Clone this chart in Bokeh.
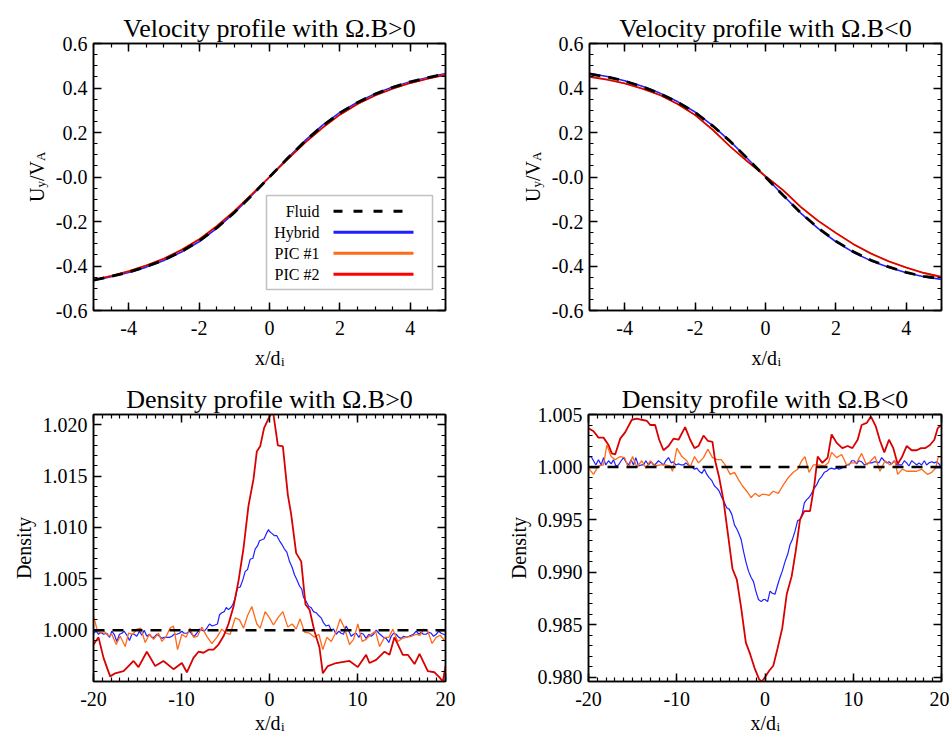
import math
import numpy as np
from bokeh.plotting import figure
from bokeh.layouts import column, row
from bokeh.models import (FixedTicker, LinearAxis, PrintfTickFormatter, CustomJSTickFormatter,
                          Label, BoxAnnotation, Arrow, Range1d)
from bokeh.embed import file_html
from bokeh.resources import INLINE

SERIF = "Liberation Serif"

# ---------------- data: velocity profiles ----------------
vel_x = [-5.0, -4.5, -4.0, -3.5, -3.0, -2.5, -2.0, -1.5, -1.0, -0.5, 0.0,
         0.5, 1.0, 1.5, 2.0, 2.5, 3.0, 3.5, 4.0, 4.5, 5.0]
# Omega.B > 0
vpos_fluid = [-0.463, -0.447, -0.428, -0.403, -0.373, -0.335, -0.288, -0.229, -0.160, -0.082, 0.0,
              0.082, 0.160, 0.229, 0.288, 0.335, 0.373, 0.403, 0.428, 0.447, 0.463]
vpos_hybrid = [-0.465, -0.448, -0.429, -0.405, -0.375, -0.337, -0.291, -0.231, -0.161, -0.082, 0.0,
               0.083, 0.162, 0.232, 0.290, 0.336, 0.374, 0.404, 0.428, 0.447, 0.465]
vpos_pic1 = [-0.462, -0.444, -0.423, -0.397, -0.366, -0.327, -0.279, -0.220, -0.152, -0.077, 0.0,
             0.077, 0.152, 0.220, 0.280, 0.328, 0.367, 0.398, 0.423, 0.443, 0.460]
vpos_pic2 = [-0.463, -0.445, -0.424, -0.398, -0.367, -0.328, -0.281, -0.222, -0.154, -0.078, 0.0,
             0.078, 0.153, 0.221, 0.280, 0.328, 0.366, 0.397, 0.422, 0.442, 0.459]
# Omega.B < 0
vneg_fluid = [0.463, 0.450, 0.431, 0.406, 0.375, 0.337, 0.290, 0.230, 0.160, 0.081, 0.0,
              -0.082, -0.161, -0.230, -0.288, -0.336, -0.374, -0.404, -0.429, -0.447, -0.457]
vneg_hybrid = [0.465, 0.452, 0.433, 0.408, 0.377, 0.339, 0.292, 0.231, 0.160, 0.081, 0.0,
               -0.082, -0.162, -0.232, -0.291, -0.339, -0.377, -0.406, -0.430, -0.448, -0.460]
vneg_pic1 = [0.452, 0.439, 0.421, 0.398, 0.369, 0.329, 0.279, 0.213, 0.137, 0.068, 0.003,
             -0.060, -0.135, -0.198, -0.252, -0.303, -0.345, -0.380, -0.408, -0.432, -0.450]
vneg_pic2 = [0.450, 0.437, 0.420, 0.397, 0.368, 0.328, 0.278, 0.212, 0.136, 0.068, 0.004,
             -0.059, -0.134, -0.197, -0.251, -0.302, -0.344, -0.379, -0.407, -0.431, -0.449]

# ---------------- data: density profiles ----------------
fluid_dx = [-20.0, 20.0]
fluid_dy = [1.0, 1.0]

# Omega.B > 0
dpos_hyb_x = [-20.00, -19.70, -19.43, -19.17, -18.86, -18.48, -18.18, -17.92, -17.65, -17.35,
              -17.05, -16.78, -16.52, -16.21, -15.91, -15.64, -15.38, -15.08, -14.77, -14.51,
              -14.24, -13.94, -13.64, -13.37, -13.11, -12.80, -12.50, -12.23, -11.97, -11.67,
              -11.36, -11.10, -10.83, -10.53, -10.23, -9.96, -9.70, -9.39, -9.09, -8.83,
              -8.56, -8.26, -7.95, -7.69, -7.42, -7.12, -6.82, -6.52, -6.21, -5.91,
              -5.68, -5.42, -5.15, -4.92, -4.66, -4.39, -4.17, -3.90, -3.64, -3.33,
              -3.03, -2.77, -2.50, -2.20, -1.89, -1.63, -1.36, -1.14, -0.87, -0.61,
              -0.30, -0.11,
              0.00, 0.30, 0.57, 0.83, 1.14, 1.44, 1.70, 1.97, 2.27, 2.58,
              2.84, 3.11, 3.41, 3.67, 3.86, 4.17, 4.47, 4.73, 5.00, 5.30,
              5.61, 5.87, 6.14, 6.44, 6.74, 7.01, 7.27, 7.58, 7.88, 8.14,
              8.41, 8.71, 9.02, 9.28, 9.55, 9.85, 10.15, 10.42, 10.68, 10.98,
              11.29, 11.55, 11.82, 12.12, 12.42, 12.69, 12.95, 13.26, 13.56, 13.83,
              14.09, 14.39, 14.70, 14.96, 15.23, 15.53, 15.83, 16.10, 16.36, 16.67,
              16.97, 17.23, 17.50, 17.80, 18.11, 18.37, 18.64, 18.94, 19.24, 19.51,
              19.77, 20.00]
dpos_hyb_y = [0.9997, 0.9999, 0.9996, 0.9998, 0.9996, 0.9997, 0.9993, 0.9999, 0.9996, 0.9989,
              0.9996, 0.9997, 0.9999, 0.9995, 0.9990, 0.9996, 0.9996, 0.9994, 0.9999, 0.9995,
              1.0000, 0.9994, 0.9996, 0.9993, 0.9993, 0.9996, 0.9994, 0.9992, 0.9993, 0.9993,
              0.9993, 0.9994, 0.9996, 0.9996, 0.9997, 0.9999, 0.9997, 0.9997, 0.9999, 0.9996,
              0.9994, 0.9997, 1.0001, 1.0000, 0.9999, 1.0002, 1.0006, 1.0004, 1.0005, 1.0006,
              1.0015, 1.0017, 1.0018, 1.0022, 1.0020, 1.0022, 1.0025, 1.0031, 1.0041, 1.0042,
              1.0049, 1.0057, 1.0059, 1.0069, 1.0070, 1.0079, 1.0082, 1.0087, 1.0088, 1.0089,
              1.0095, 1.0098,
              1.0096, 1.0094, 1.0092, 1.0092, 1.0087, 1.0083, 1.0079, 1.0076, 1.0067, 1.0061,
              1.0054, 1.0049, 1.0043, 1.0040, 1.0032, 1.0028, 1.0023, 1.0022, 1.0018, 1.0017,
              1.0014, 1.0012, 1.0007, 1.0004, 1.0005, 1.0000, 1.0001, 0.9996, 0.9999, 0.9997,
              0.9996, 1.0004, 0.9999, 0.9994, 0.9996, 0.9997, 0.9993, 0.9997, 0.9996, 0.9992,
              0.9996, 0.9994, 0.9996, 1.0000, 0.9997, 0.9995, 0.9993, 0.9992, 0.9988, 0.9994,
              0.9997, 0.9996, 0.9993, 0.9992, 0.9994, 0.9993, 0.9994, 0.9995, 0.9996, 0.9999,
              0.9996, 0.9998, 0.9996, 0.9996, 0.9998, 0.9997, 0.9994, 0.9996, 0.9999, 0.9997,
              0.9996, 0.9995]
dpos_pic1_x = [-20.00, -19.55, -19.17, -18.79, -18.30, -17.92, -17.42, -16.97, -16.40, -16.02,
               -15.53, -15.08, -14.62, -14.13, -13.64, -13.18, -12.61, -12.23, -11.74, -11.29,
               -10.91, -10.45, -9.96, -9.47, -9.02, -8.64, -8.18, -7.69, -7.12, -6.55,
               -5.98, -5.42, -4.92, -4.47, -3.90, -3.41, -2.95, -2.50, -2.01, -1.44,
               -1.06, -0.49,
               0.00, 0.45, 0.95, 1.52, 2.08, 2.58, 3.03, 3.48, 3.98, 4.55,
               5.11, 5.61, 6.06, 6.52, 7.01, 7.50, 8.03, 8.52, 9.09, 9.55,
               10.04, 10.53, 10.98, 11.55, 12.05, 12.50, 13.07, 13.56, 14.02, 14.58,
               15.08, 15.53, 16.10, 16.67, 17.12, 17.50, 17.99, 18.48, 18.94, 19.39,
               20.00]
dpos_pic1_y = [1.0014, 0.9999, 0.9997, 0.9999, 0.9994, 0.9996, 0.9986, 0.9994, 0.9984, 0.9997,
               0.9996, 1.0001, 1.0002, 0.9988, 0.9996, 0.9991, 0.9997, 0.9989, 0.9994, 1.0002,
               1.0004, 0.9981, 0.9996, 0.9993, 1.0002, 0.9993, 0.9994, 1.0003, 0.9994, 0.9987,
               0.9993, 1.0001, 0.9997, 0.9996, 1.0012, 1.0010, 1.0002, 1.0014, 1.0023, 1.0006,
               1.0002, 1.0018,
               1.0012, 1.0005, 1.0012, 1.0018, 1.0003, 1.0006, 1.0001, 1.0011, 0.9998, 0.9997,
               0.9993, 0.9996, 0.9981, 0.9993, 0.9989, 0.9997, 1.0011, 1.0002, 0.9986, 0.9991,
               1.0006, 0.9989, 0.9991, 0.9996, 0.9999, 0.9984, 0.9993, 0.9993, 1.0001, 0.9989,
               0.9992, 0.9993, 0.9994, 0.9996, 0.9995, 1.0001, 0.9999, 0.9987, 0.9993, 0.9995,
               0.9989]
dpos_pic2_x = [-20.00, -19.43, -18.86, -18.11, -17.54, -16.59, -16.02, -15.45, -14.89, -13.94,
               -12.99, -12.05, -10.91, -9.96, -9.39, -8.64, -8.07, -7.50, -6.93, -6.36,
               -5.80, -5.23, -4.66, -4.09, -3.52, -2.95, -2.39, -1.82, -1.44, -1.06,
               -0.61, 0.00, 0.40, 0.95, 1.52, 2.08, 2.46, 3.03, 3.60, 4.09,
               4.55, 5.11, 5.68, 6.06, 6.63, 7.58, 9.09, 10.04, 10.98, 11.36,
               12.12, 13.07, 13.64, 14.20, 15.15, 15.72, 16.48, 17.05, 17.99, 18.75,
               19.32, 19.70, 20.00]
dpos_pic2_y = [0.9986, 0.9993, 0.9973, 0.9955, 0.9958, 0.9960, 0.9965, 0.9970, 0.9964, 0.9979,
               0.9965, 0.9970, 0.9962, 0.9968, 0.9959, 0.9973, 0.9979, 0.9978, 0.9981, 0.9981,
               0.9986, 0.9994, 1.0006, 1.0023, 1.0048, 1.0080, 1.0121, 1.0147, 1.0174, 1.0179,
               1.0197, 1.0208, 1.0213, 1.0180, 1.0179, 1.0132, 1.0113, 1.0075, 1.0067, 1.0025,
               1.0020, 0.9999, 0.9983, 0.9958, 0.9965, 0.9968, 0.9970, 0.9964, 0.9976, 0.9968,
               0.9971, 0.9979, 0.9976, 0.9993, 0.9976, 0.9976, 0.9967, 0.9977, 0.9960, 0.9959,
               0.9954, 0.9950, 0.9965]

# Omega.B < 0
dneg_hyb_x = [-20.00, -19.70, -19.43, -19.17, -18.87, -18.56, -18.30, -18.04, -17.73, -17.43,
              -17.17, -16.90, -16.60, -16.30, -16.03, -15.77, -15.47, -15.17, -14.90, -14.64,
              -14.33, -14.03, -13.77, -13.50, -13.20, -12.90, -12.63, -12.37, -12.07, -11.77,
              -11.50, -11.24, -10.93, -10.63, -10.37, -10.10, -9.80, -9.50, -9.23, -8.97,
              -8.67, -8.29, -7.99, -7.72, -7.46, -7.16, -6.86, -6.59, -6.33, -6.02,
              -5.72, -5.46, -5.19, -4.89, -4.59, -4.32, -4.06, -3.76, -3.46, -3.19,
              -2.93, -2.70, -2.44, -2.17, -1.87, -1.57, -1.30, -1.04, -0.74, -0.43,
              -0.17,
              0.00, 0.30, 0.57, 0.83, 1.13, 1.44, 1.70, 1.96, 2.27, 2.57,
              2.83, 3.10, 3.40, 3.70, 3.97, 4.23, 4.46, 4.72, 4.99, 5.29,
              5.59, 5.85, 6.12, 6.42, 6.72, 6.99, 7.25, 7.55, 7.86, 8.12,
              8.39, 8.69, 8.99, 9.25, 9.52, 9.82, 10.12, 10.39, 10.65, 10.95,
              11.26, 11.52, 11.78, 12.09, 12.39, 12.65, 12.92, 13.22, 13.52, 13.79,
              14.05, 14.35, 14.66, 14.92, 15.18, 15.49, 15.79, 16.05, 16.32, 16.62,
              16.92, 17.19, 17.45, 17.75, 18.05, 18.32, 18.58, 18.89, 19.19, 19.45,
              19.72, 19.94]
dneg_hyb_y = [1.0009, 1.0010, 1.0006, 1.0002, 1.0007, 1.0002, 1.0009, 1.0002, 1.0006, 1.0003,
              1.0007, 1.0001, 1.0002, 1.0006, 1.0009, 1.0005, 1.0002, 1.0007, 1.0002, 1.0009,
              1.0001, 1.0002, 1.0002, 1.0006, 1.0002, 1.0005, 1.0002, 1.0003, 1.0006, 1.0004,
              1.0002, 1.0006, 1.0009, 1.0004, 1.0005, 1.0002, 1.0003, 1.0002, 1.0002, 1.0004,
              1.0002, 1.0000, 0.9998, 0.9999, 0.9996, 0.9994, 0.9998, 0.9993, 0.9990, 0.9987,
              0.9982, 0.9980, 0.9977, 0.9971, 0.9966, 0.9961, 0.9960, 0.9955, 0.9945, 0.9941,
              0.9936, 0.9931, 0.9920, 0.9910, 0.9901, 0.9895, 0.9891, 0.9882, 0.9874, 0.9872,
              0.9874,
              0.9874, 0.9872, 0.9882, 0.9880, 0.9879, 0.9888, 0.9895, 0.9901, 0.9910, 0.9917,
              0.9926, 0.9931, 0.9939, 0.9949, 0.9950, 0.9956, 0.9966, 0.9969, 0.9971, 0.9975,
              0.9980, 0.9983, 0.9988, 0.9991, 0.9995, 0.9996, 0.9998, 0.9999, 0.9998, 0.9999,
              0.9998, 0.9999, 1.0000, 1.0002, 1.0002, 1.0006, 1.0006, 1.0003, 1.0006, 1.0005,
              1.0002, 1.0003, 1.0004, 1.0004, 1.0005, 1.0005, 1.0004, 1.0009, 1.0006, 1.0004,
              1.0005, 1.0003, 1.0006, 1.0002, 1.0002, 1.0002, 1.0006, 1.0004, 1.0001, 1.0006,
              1.0004, 1.0002, 1.0004, 1.0002, 1.0006, 1.0002, 1.0004, 1.0005, 1.0004, 1.0005,
              1.0003, 1.0000]
dneg_pic1_x = [-20.00, -19.43, -18.87, -18.30, -17.92, -17.43, -16.98, -16.41, -15.92, -15.47,
               -15.01, -14.52, -13.96, -13.50, -13.01, -12.45, -11.88, -11.31, -10.75, -10.48,
               -9.99, -9.42, -8.86, -8.48, -7.99, -7.54, -6.97, -6.48, -5.95, -5.46,
               -4.97, -4.51, -3.95, -3.46, -3.00, -2.55, -2.06, -1.57, -1.11, -0.66,
               -0.36,
               0.00, 0.45, 0.94, 1.51, 2.08, 2.64, 3.21, 3.70, 4.15, 4.53,
               4.99, 5.48, 6.04, 6.72, 7.18, 7.55, 8.12, 8.69, 9.25, 9.82,
               10.39, 10.95, 11.52, 12.01, 12.46, 13.03, 13.60, 14.16, 14.73, 15.03,
               15.56, 16.05, 16.62, 17.19, 17.75, 18.43, 18.89, 19.34, 19.64, 20.00]
dneg_pic1_y = [0.9999, 0.9993, 1.0001, 1.0002, 1.0021, 1.0010, 1.0007, 1.0010, 1.0009, 0.9999,
               1.0010, 1.0000, 1.0006, 0.9999, 1.0006, 1.0001, 1.0002, 1.0002, 1.0001, 0.9996,
               1.0018, 1.0010, 1.0006, 1.0000, 1.0010, 1.0004, 1.0009, 1.0017, 1.0009, 1.0007,
               1.0007, 1.0002, 0.9993, 0.9995, 0.9988, 0.9982, 0.9977, 0.9971, 0.9975, 0.9972,
               0.9974,
               0.9974, 0.9973, 0.9977, 0.9975, 0.9983, 0.9990, 0.9995, 0.9998, 1.0006, 1.0010,
               0.9995, 1.0002, 1.0002, 1.0001, 1.0004, 1.0014, 1.0009, 1.0012, 1.0002, 1.0004,
               1.0004, 1.0013, 1.0002, 1.0006, 1.0010, 0.9996, 1.0006, 1.0002, 1.0006, 0.9993,
               0.9998, 0.9996, 0.9996, 0.9996, 0.9998, 0.9993, 0.9995, 0.9999, 1.0010, 1.0009]
dneg_pic2_x = [-20.00, -19.43, -18.87, -18.30, -17.73, -17.36, -16.98, -16.41, -15.85, -15.09,
               -14.52, -13.96, -13.39, -13.01, -12.45, -11.99, -11.50, -10.93, -10.37, -9.80,
               -9.05, -8.48, -7.99, -7.54, -6.97, -6.48, -5.95, -5.65, -5.19, -4.70,
               -4.21, -3.68, -3.19, -2.70, -2.17, -1.68, -1.19, -0.66, -0.36,
               0.00, 0.45, 0.94, 1.44, 1.96, 2.46, 3.02, 3.48, 3.97, 4.46,
               5.10, 5.59, 5.97, 6.50, 7.10, 7.55, 8.12, 8.76, 9.37, 9.90,
               10.50, 10.95, 11.52, 12.01, 12.54, 13.03, 13.52, 14.05, 14.54, 15.03,
               15.49, 16.05, 16.62, 17.19, 17.68, 18.13, 18.70, 19.19, 19.57, 20.00]
dneg_pic2_y = [1.0037, 1.0034, 1.0028, 1.0028, 1.0021, 1.0013, 1.0012, 1.0027, 1.0033, 1.0045,
               1.0046, 1.0045, 1.0044, 1.0040, 1.0040, 1.0026, 1.0016, 1.0020, 1.0027, 1.0026,
               1.0038, 1.0026, 1.0018, 1.0020, 1.0030, 1.0025, 1.0024, 1.0006, 0.9990, 0.9968,
               0.9937, 0.9903, 0.9893, 0.9866, 0.9833, 0.9822, 0.9809, 0.9798, 0.9796,
               0.9800, 0.9806, 0.9811, 0.9828, 0.9847, 0.9879, 0.9896, 0.9920, 0.9950, 0.9958,
               0.9958, 0.9983, 1.0010, 1.0004, 1.0009, 1.0031, 1.0023, 1.0018, 1.0020, 1.0018,
               1.0026, 1.0040, 1.0042, 1.0048, 1.0039, 1.0025, 1.0014, 1.0026, 1.0018, 1.0003,
               1.0009, 1.0020, 1.0016, 1.0016, 1.0018, 1.0018, 1.0021, 1.0026, 1.0037, 1.0040]

# ---------------- ticks / labels ----------------
vel_xticks = [-4, -2, 0, 2, 4]
vel_yticks = [-0.6, -0.4, -0.2, 0.0, 0.2, 0.4, 0.6]
den_xticks = [-20, -10, 0, 10, 20]
dpos_yticks = [1.000, 1.005, 1.010, 1.015, 1.020]
dneg_yticks = [0.980, 0.985, 0.990, 0.995, 1.000, 1.005]

series_names = ["Fluid", "Hybrid", "PIC #1", "PIC #2"]
titles = ["Velocity profile with \u03a9.B>0", "Velocity profile with \u03a9.B<0",
          "Density profile with \u03a9.B>0", "Density profile with \u03a9.B<0"]

# ---------------- styles ----------------
FLUID_C = "black"
HYB_C = "#1f1fff"
PIC1_C = "#ff6a1a"
PIC2_C = "#d80000"
DASH = "11 8"


def minor(a, b, step):
    return [round(v, 5) for v in np.arange(a, b + step / 2, step)]


def style_axis(ax, ticker, formatter, standoff):
    ax.ticker = ticker
    ax.formatter = formatter
    ax.major_tick_in = 8
    ax.major_tick_out = 0
    ax.minor_tick_in = 4
    ax.minor_tick_out = 0
    ax.major_tick_line_width = 1.5
    ax.minor_tick_line_width = 1.2
    ax.major_tick_line_color = "black"
    ax.minor_tick_line_color = "black"
    ax.axis_line_color = "black"
    ax.axis_line_width = 1.5
    ax.major_label_text_font = SERIF
    ax.major_label_text_font_size = "20px"
    ax.major_label_text_color = "black"
    ax.major_label_standoff = standoff


def make_panel(title, width, height, xr, yr, borders, xticker, yticker, yfmt):
    l, r, t, b = borders
    p = figure(width=width, height=height, x_range=Range1d(*xr), y_range=Range1d(*yr),
               output_backend="svg", toolbar_location=None,
               min_border_left=l, min_border_right=r, min_border_top=t, min_border_bottom=b,
               background_fill_color="white", border_fill_color="white")
    p.title.text = title
    p.title.text_font = SERIF
    p.title.text_font_size = "26px"
    p.title.text_font_style = "normal"
    p.title.text_color = "black"
    p.title.align = "center"
    p.title.standoff = 2
    p.xgrid.visible = False
    p.ygrid.visible = False
    p.outline_line_color = "black"
    p.outline_line_width = 1.5
    style_axis(p.xaxis[0], xticker, PrintfTickFormatter(format="%d"), 10)
    style_axis(p.yaxis[0], yticker, yfmt, 6)
    blank = CustomJSTickFormatter(code="return '';")
    top = LinearAxis()
    style_axis(top, xticker, blank, 0)
    p.add_layout(top, "above")
    right = LinearAxis()
    style_axis(right, yticker, blank, 0)
    p.add_layout(right, "right")
    p._corner = (xr[0], yr[0])
    return p, width - l - r, height - t - b


def lab(p, dx, dy, text, side, size="20px", align="left", angle=0.0, baseline="alphabetic"):
    """Text placed by pixel offset from the frame's lower-left corner.
    Side panels are used only so that the text is not clipped by the frame."""
    cx, cy = p._corner
    p.add_layout(Label(x=cx, y=cy, x_units="data", y_units="data", x_offset=dx, y_offset=dy,
                       text=text, text_font=SERIF, text_font_size=size, text_color="black",
                       text_align=align, text_baseline=baseline, angle=angle), side)


def xlabel(p, fw, dy, side_main, side_sub):
    c = fw / 2
    lab(p, c + 11, dy, "x/d", side_main, align="right")
    lab(p, c + 11.5, dy - 3.5, "i", side_sub, size="13px")


def uy_label(p, fh, sides):
    y0 = fh / 2 - 25
    a = math.pi / 2
    lab(p, -57, y0, "U", sides[0], angle=a)
    lab(p, -53, y0 + 14.5, "y", sides[1], size="13px", angle=a)
    lab(p, -57, y0 + 21, "/V", sides[2], angle=a)
    lab(p, -53, y0 + 41, "A", sides[3], size="13px", angle=a)


def density_label(p, fh):
    lab(p, -70, fh / 2, "Density", "left", align="center", angle=math.pi / 2)


vel_xt = FixedTicker(ticks=vel_xticks, minor_ticks=minor(-5, 5, 0.5))
vel_yt = FixedTicker(ticks=vel_yticks, minor_ticks=minor(-0.6, 0.6, 0.05))
den_xt = FixedTicker(ticks=den_xticks, minor_ticks=minor(-20, 20, 1))
dpos_yt = FixedTicker(ticks=dpos_yticks, minor_ticks=minor(0.995, 1.021, 0.001))
dneg_yt = FixedTicker(ticks=dneg_yticks, minor_ticks=minor(0.979, 1.005, 0.001))
vel_fmt = CustomJSTickFormatter(code="const s = tick.toFixed(1); return s == '0.0' ? '-0.0' : s;")

# ---- panel 1: velocity, Omega.B > 0
p1, fw1, fh1 = make_panel(titles[0], 474, 371, (-5, 5), (-0.6, 0.6), (93, 29, 43, 61),
                          vel_xt, vel_yt, vel_fmt)
p1.line(vel_x, vpos_hybrid, line_color=HYB_C, line_width=1.6)
p1.line(vel_x, vpos_pic1, line_color=PIC1_C, line_width=1.6)
p1.line(vel_x, vpos_pic2, line_color=PIC2_C, line_width=1.6)
p1.line(vel_x, vpos_fluid, line_color=FLUID_C, line_width=2.8, line_dash=DASH)
xlabel(p1, fw1, -47, "right", "left")
uy_label(p1, fh1, ["left", "below", "left", "below"])

# legend (labels left, samples right, as in the original)
p1.add_layout(BoxAnnotation(left=173, right=339, bottom=21, top=115,
                            left_units="screen", right_units="screen",
                            top_units="screen", bottom_units="screen",
                            fill_color="white", fill_alpha=1.0,
                            line_color="#333333", line_width=1.5))
leg_styles = [(FLUID_C, "9 11"), (HYB_C, "solid"), (PIC1_C, "solid"), ("#ff0000", "solid")]
for i, (name, (col, dash)) in enumerate(zip(series_names, leg_styles)):
    yy = 99.3 - 21 * i
    p1.add_layout(Label(x=226, y=yy, x_units="screen", y_units="screen", text=name,
                        text_font=SERIF, text_font_size="16px", text_color="black",
                        text_align="right", text_baseline="middle"))
    p1.add_layout(Arrow(end=None, x_start=240, y_start=yy, x_end=320, y_end=yy,
                        start_units="screen", end_units="screen",
                        line_color=col, line_width=3, line_dash=dash))

# ---- panel 2: velocity, Omega.B < 0
p2, fw2, fh2 = make_panel(titles[1], 475, 371, (-5, 5), (-0.6, 0.6), (114, 8, 43, 61),
                          vel_xt, vel_yt, vel_fmt)
p2.line(vel_x, vneg_hybrid, line_color=HYB_C, line_width=1.6)
p2.line(vel_x, vneg_pic1, line_color=PIC1_C, line_width=1.6)
p2.line(vel_x, vneg_pic2, line_color=PIC2_C, line_width=1.6)
p2.line(vel_x, vneg_fluid, line_color=FLUID_C, line_width=2.8, line_dash=DASH)
xlabel(p2, fw2, -47, "below", "right")
uy_label(p2, fh2, ["left", "left", "left", "left"])

# ---- panel 3: density, Omega.B > 0
p3, fw3, fh3 = make_panel(titles[2], 474, 360, (-20, 20), (0.995, 1.021), (93, 29, 43, 50),
                          den_xt, dpos_yt, PrintfTickFormatter(format="%.3f"))
p3.line(dpos_hyb_x, dpos_hyb_y, line_color=HYB_C, line_width=1.2)
p3.line(dpos_pic1_x, dpos_pic1_y, line_color=PIC1_C, line_width=1.3)
p3.line(dpos_pic2_x, dpos_pic2_y, line_color=PIC2_C, line_width=1.8)
p3.line(fluid_dx, fluid_dy, line_color=FLUID_C, line_width=2.5, line_dash=DASH)
xlabel(p3, fw3, -41, "right", "left")
density_label(p3, fh3)

# ---- panel 4: density, Omega.B < 0
p4, fw4, fh4 = make_panel(titles[3], 475, 360, (-20, 20), (0.9796, 1.005), (114, 8, 43, 50),
                          den_xt, dneg_yt, PrintfTickFormatter(format="%.3f"))
p4.line(dneg_hyb_x, dneg_hyb_y, line_color=HYB_C, line_width=1.2)
p4.line(dneg_pic1_x, dneg_pic1_y, line_color=PIC1_C, line_width=1.3)
p4.line(dneg_pic2_x, dneg_pic2_y, line_color=PIC2_C, line_width=1.8)
p4.line(fluid_dx, fluid_dy, line_color=FLUID_C, line_width=2.5, line_dash=DASH)
xlabel(p4, fw4, -41, "left", "left")
density_label(p4, fh4)

layout = column(row(p1, p2), row(p3, p4))
open("out.html", "w").write(file_html(layout, INLINE, title="profiles"))
